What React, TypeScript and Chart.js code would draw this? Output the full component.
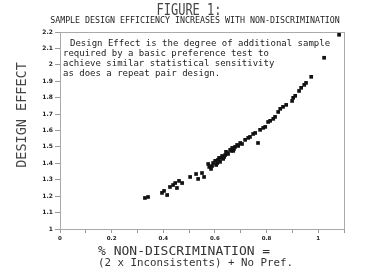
import React, { useEffect, useRef } from "react";
import { Chart, registerables } from "chart.js";

Chart.register(...registerables);

const xValues: number[] = [
  0.329, 0.341, 0.395, 0.403, 0.415, 0.426, 0.438, 0.446, 0.453, 0.461,
  0.473, 0.504, 0.527, 0.535, 0.55, 0.558, 0.574, 0.578, 0.585, 0.589,
  0.593, 0.601, 0.605, 0.609, 0.612, 0.616, 0.62, 0.624, 0.628, 0.632,
  0.636, 0.64, 0.643, 0.647, 0.651, 0.659, 0.663, 0.667, 0.671, 0.674,
  0.678, 0.686, 0.69, 0.698, 0.705, 0.717, 0.729, 0.736, 0.748, 0.756,
  0.767, 0.775, 0.787, 0.795, 0.806, 0.814, 0.826, 0.833, 0.845, 0.853,
  0.864, 0.876, 0.899, 0.903, 0.911, 0.926, 0.934, 0.946, 0.953, 0.973,
  1.023, 1.081,
];
const yValues: number[] = [
  1.189, 1.195, 1.22, 1.232, 1.207, 1.256, 1.268, 1.28, 1.25, 1.293,
  1.28, 1.317, 1.335, 1.305, 1.341, 1.317, 1.396, 1.378, 1.366, 1.384,
  1.402, 1.415, 1.39, 1.402, 1.421, 1.433, 1.409, 1.433, 1.445, 1.427,
  1.439, 1.451, 1.47, 1.463, 1.457, 1.482, 1.476, 1.494, 1.476, 1.488,
  1.5, 1.512, 1.506, 1.524, 1.518, 1.543, 1.555, 1.561, 1.579, 1.585,
  1.524, 1.604, 1.616, 1.622, 1.652, 1.659, 1.671, 1.683, 1.713, 1.732,
  1.744, 1.756, 1.78, 1.799, 1.811, 1.841, 1.86, 1.878, 1.89, 1.927,
  2.043, 2.183,
];

const titleText = "FIGURE 1:";
const subtitleText = "SAMPLE DESIGN EFFICIENCY INCREASES WITH NON-DISCRIMINATION";
const yTitle = "DESIGN EFFECT";
const xTitleLines = ["% NON-DISCRIMINATION =", "(2 x Inconsistents) + No Pref."];
const noteLines = [
  "Design Effect is the degree of additional sample",
  "required by a basic preference test to",
  "achieve similar statistical sensitivity",
  "as does a repeat pair design.",
];

const MONO = '"DejaVu Sans Mono", monospace';

function drawText(
  ctx: CanvasRenderingContext2D,
  text: string,
  x: number,
  y: number,
  size: number,
  align: CanvasTextAlign,
  scaleX = 1,
  rotate = 0,
  color = "#222"
) {
  ctx.save();
  ctx.translate(x, y);
  if (rotate) ctx.rotate(rotate);
  ctx.scale(scaleX, 1);
  ctx.font = `${size}px ${MONO}`;
  ctx.textAlign = align;
  ctx.textBaseline = "middle";
  ctx.fillStyle = color;
  ctx.fillText(text, 0, 0);
  ctx.restore();
}

const textPlugin = {
  id: "figText",
  beforeDatasetsDraw(chart: any) {
    const { ctx, chartArea } = chart;
    ctx.save();
    ctx.strokeStyle = "#aaa";
    ctx.lineWidth = 1;
    ctx.strokeRect(chartArea.left + 0.5, chartArea.top + 0.5, chartArea.right - chartArea.left, chartArea.bottom - chartArea.top);
    ctx.restore();
  },
  afterDraw(chart: any) {
    const ctx = chart.ctx as CanvasRenderingContext2D;
    drawText(ctx, titleText, 189, 11, 15, "center", 0.8, 0, "#444");
    drawText(ctx, subtitleText, 195, 21, 8.3, "center");
    drawText(ctx, yTitle, 22, 115, 13.5, "center", 1, -Math.PI / 2, "#444");
    drawText(ctx, xTitleLines[0], 98, 252, 13, "left", 1, 0, "#333");
    drawText(ctx, xTitleLines[1], 98, 263, 10.8, "left", 1, 0, "#333");
    noteLines.forEach((l, i) => {
      drawText(ctx, l, i === 0 ? 70 : 63, 44 + i * 10, 9, "left");
    });
  },
};

export default function App() {
  const ref = useRef<HTMLCanvasElement | null>(null);
  useEffect(() => {
    document.body.style.margin = "0";
    const canvas = ref.current;
    if (!canvas) return;
    const chart = new Chart(canvas, {
      type: "scatter",
      data: {
        datasets: [
          {
            data: xValues.map((x, i) => ({ x, y: yValues[i] })),
            backgroundColor: "#111",
            borderWidth: 0,
            pointStyle: "rect",
            pointRadius: 2.6,
          },
        ],
      },
      options: {
        responsive: false,
        animation: false,
        devicePixelRatio: 1,
        layout: { padding: { left: 0, top: 32, right: 31, bottom: 0 } },
        plugins: { legend: { display: false }, tooltip: { enabled: false } },
        scales: {
          x: {
            type: "linear",
            min: 0,
            max: 1.1,
            afterFit: (s: any) => {
              s.height = 50;
            },
            ticks: {
              stepSize: 0.1,
              autoSkip: false,
              maxRotation: 0,
              padding: 2,
              color: "#222",
              font: { family: '"DejaVu Sans"', size: 5.5, weight: "bold" },
              callback: (v: any) => {
                const n = Math.round(Number(v) * 10);
                if (n % 2 !== 0) return "";
                return String(Number((n / 10).toFixed(1)));
              },
            },
            grid: { drawOnChartArea: false, tickLength: 4, color: "#999" },
            border: { color: "#999" },
          },
          y: {
            type: "linear",
            min: 1,
            max: 2.2,
            afterFit: (s: any) => {
              s.width = 60;
            },
            ticks: {
              stepSize: 0.1,
              autoSkip: false,
              padding: 2,
              color: "#222",
              font: { family: '"DejaVu Sans"', size: 6, weight: "bold" },
              callback: (v: any) => String(Number(Number(v).toFixed(1))),
            },
            grid: { drawOnChartArea: false, tickLength: 5, color: "#999" },
            border: { color: "#999" },
          },
        },
      },
      plugins: [textPlugin],
    } as any);
    return () => chart.destroy();
  }, []);
  return <canvas ref={ref} width={375} height={279} style={{ display: "block" }} />;
}
